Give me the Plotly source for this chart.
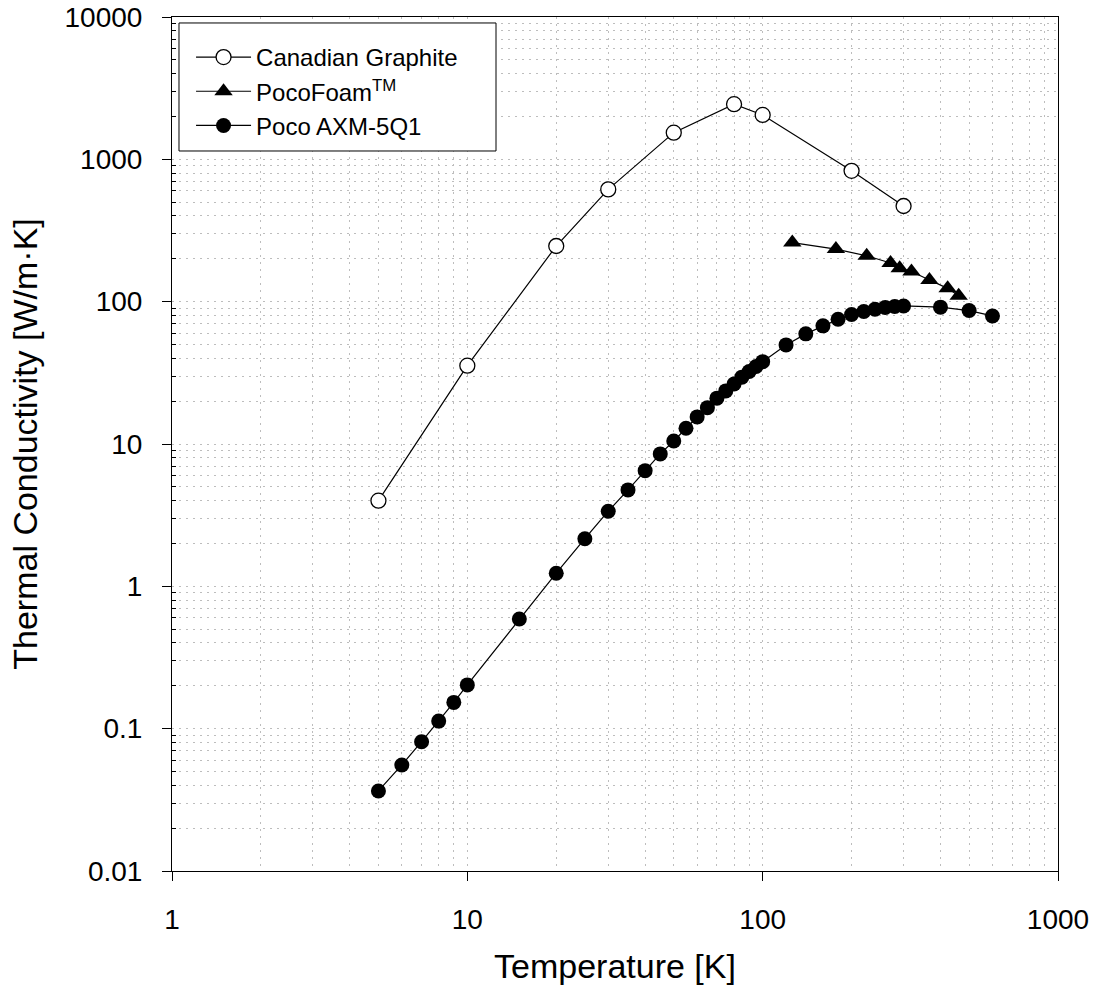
import plotly.graph_objects as go

# Canadian Graphite
cg_t = [5, 10, 20, 30, 50, 80, 100, 200, 300]
cg_k = [4.0, 35.5, 246, 615, 1540, 2440, 2050, 830, 470]

# PocoFoam
pf_t = [126, 177, 225, 271, 291, 319, 367, 423, 461]
pf_k = [260, 234, 210, 187, 172, 163, 142, 124, 110]

# Poco AXM-5Q1
ax_t = [5, 6, 7, 8, 9, 10, 15, 20, 25, 30, 35, 40, 45, 50, 55, 60, 65, 70, 75, 80,
        85, 90, 95, 100, 120, 140, 160, 180, 200, 220, 240, 260, 280, 300, 400, 500, 600]
ax_k = [0.0365, 0.0556, 0.081, 0.113, 0.153, 0.203, 0.59, 1.236, 2.16, 3.37, 4.76, 6.5,
        8.52, 10.5, 12.9, 15.5, 18.0, 21.0, 23.6, 26.4, 29.5, 32.3, 35.0, 37.9, 49.7,
        59.4, 67.6, 75.3, 81.2, 85.2, 88.5, 90.9, 92.4, 93.3, 91.5, 86.6, 79.4]

x_ticks = [1, 10, 100, 1000]
x_ticklabels = ["1", "10", "100", "1000"]
y_ticks = [0.01, 0.1, 1, 10, 100, 1000, 10000]
y_ticklabels = ["0.01", "0.1", "1", "10", "100", "1000", "10000"]
x_minor = [m * d for d in [1, 10, 100] for m in range(2, 10)]
y_minor = [m * d for d in [0.01, 0.1, 1, 10, 100, 1000] for m in range(2, 10)]

FONT = "Liberation Sans, Arial, sans-serif"

fig = go.Figure()
fig.add_trace(go.Scatter(
    x=cg_t, y=cg_k, mode="lines+markers", name="Canadian Graphite",
    line=dict(color="black", width=1.2),
    marker=dict(symbol="circle", size=15, color="white", line=dict(color="black", width=1.3)),
))
fig.add_trace(go.Scatter(
    x=pf_t, y=pf_k, mode="lines+markers", name="PocoFoam<sup>TM</sup>",
    line=dict(color="black", width=1.2),
    marker=dict(symbol="triangle-up", size=16, color="black"),
))
fig.add_trace(go.Scatter(
    x=ax_t, y=ax_k, mode="lines+markers", name="Poco AXM-5Q1",
    line=dict(color="black", width=1.2),
    marker=dict(symbol="circle", size=15, color="black"),
))

grid_dash = "2px,5px"
GRID = "#bdbdbd"
fig.update_layout(
    width=1094, height=986,
    margin=dict(l=172, r=36, t=17, b=115, autoexpand=False),
    plot_bgcolor="white", paper_bgcolor="white",
    font=dict(family=FONT, color="black", size=28),
    showlegend=True,
    legend=dict(
        x=0.0215, y=0.979, xanchor="left", yanchor="top",
        bgcolor="rgba(0,0,0,0)", borderwidth=0,
        font=dict(size=24, family=FONT), itemwidth=55,
        tracegroupgap=0,
    ),
    shapes=[dict(
        type="rect", xref="paper", yref="paper",
        x0=0.0079, x1=0.3657, y0=0.8431, y1=0.9930,
        fillcolor="white", line=dict(color="black", width=1), layer="above",
    )],
    xaxis=dict(
        type="log", range=[0, 3], automargin=False,
        tickmode="array", tickvals=x_ticks, ticktext=x_ticklabels,
        ticks="outside", ticklen=9, tickcolor="black",
        ticklabeloverflow="allow",
        showline=True, linecolor="black", linewidth=1, mirror=True,
        showgrid=True, gridcolor=GRID, griddash=grid_dash, gridwidth=1,
        minor=dict(tickmode="array", tickvals=x_minor, showgrid=True, gridcolor=GRID,
                   griddash=grid_dash, gridwidth=1, ticks=""),
        zeroline=False,
        ticklabelstandoff=14,
        title=dict(text="Temperature [K]", font=dict(size=34), standoff=20),
    ),
    yaxis=dict(
        type="log", range=[-2, 4], automargin=False,
        tickmode="array", tickvals=y_ticks, ticktext=y_ticklabels,
        ticks="outside", ticklen=9, tickcolor="black",
        ticklabeloverflow="allow",
        showline=True, linecolor="black", linewidth=1, mirror=True,
        showgrid=True, gridcolor=GRID, griddash=grid_dash, gridwidth=1,
        minor=dict(tickmode="array", tickvals=y_minor, showgrid=True, gridcolor=GRID,
                   griddash=grid_dash, gridwidth=1,
                   ticks="inside", ticklen=4, tickcolor="black"),
        zeroline=False,
        ticklabelstandoff=14,
        title=dict(text="Thermal Conductivity [W/m·K]", font=dict(size=34), standoff=16),
    ),
)

fig.write_html("out.html",
               config={"displayModeBar": False},
               post_script="document.body.style.margin='0';document.body.style.overflow='hidden';")
